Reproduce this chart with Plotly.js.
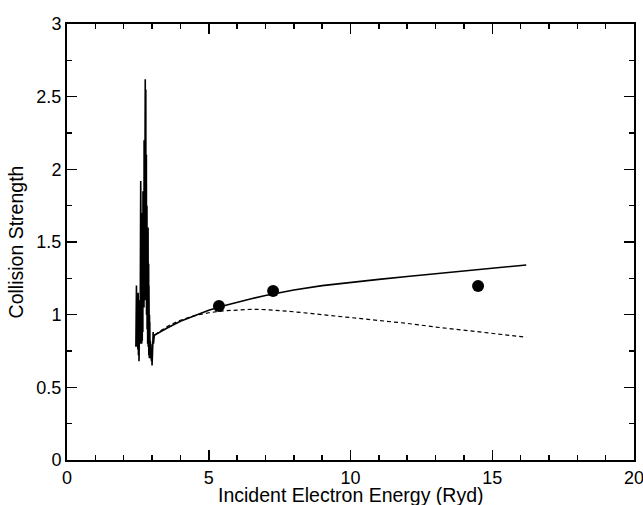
<!DOCTYPE html>
<html>
<head>
<meta charset="utf-8">
<script src="https://cdn.plot.ly/plotly-3.0.1.min.js"></script>
<style>html,body{margin:0;padding:0;background:#fff;}#chart{width:643px;height:505px;}</style>
</head>
<body>
<div id="chart"></div>
<script>
// Solid curve: resonance region + smooth background (energy in Ryd, collision strength)
const solidX = [2.43, 2.45, 2.46, 2.47, 2.48, 2.49, 2.50, 2.51, 2.52, 2.53, 2.54, 2.55, 2.56, 2.57, 2.58, 2.59, 2.600, 2.605, 2.610, 2.615, 2.620, 2.625, 2.630, 2.635, 2.640, 2.645, 2.650, 2.655, 2.660, 2.665, 2.670, 2.675, 2.680, 2.685, 2.690, 2.695, 2.700, 2.705, 2.710, 2.715, 2.720, 2.725, 2.730, 2.735, 2.740, 2.745, 2.750, 2.755, 2.760, 2.765, 2.770, 2.775, 2.780, 2.785, 2.790, 2.795, 2.800, 2.805, 2.810, 2.815, 2.820, 2.825, 2.830, 2.835, 2.840, 2.845, 2.850, 2.855, 2.860, 2.865, 2.870, 2.875, 2.880, 2.885, 2.890, 2.895, 2.900, 2.905, 2.910, 2.915, 2.920, 2.930, 2.940, 2.950, 2.960, 2.970, 2.980, 2.990, 3.000, 3.010, 3.020, 3.030, 3.040, 3.050, 3.060, 3.080, 3.100,
  3.5, 4.0, 4.5, 5.0, 5.5, 6.0, 6.5, 7.0, 7.5, 8.0, 9.0, 10.0, 11.0, 12.0, 13.0, 14.0, 15.0, 16.2];
const solidY = [0.78, 1.20, 0.80, 1.10, 0.78, 0.95, 0.76, 1.15, 0.72, 1.00, 0.68, 0.98, 0.75, 1.10, 0.80, 1.40, 1.92, 0.90, 1.60, 0.85, 1.70, 0.95, 1.50, 0.80, 1.55, 1.00, 1.65, 0.82, 1.45, 1.05, 1.70, 0.88, 1.85, 1.10, 1.60, 0.95, 1.72, 1.20, 1.95, 1.05, 2.20, 1.30, 1.70, 1.10, 2.50, 1.25, 1.90, 1.15, 2.62, 1.35, 2.20, 1.25, 2.55, 1.10, 1.80, 1.20, 2.10, 1.00, 1.65, 1.15, 1.75, 0.90, 1.50, 1.05, 1.55, 0.80, 1.45, 1.00, 1.60, 0.78, 1.30, 0.95, 1.35, 0.72, 1.20, 0.85, 1.10, 0.70, 1.00, 0.75, 0.95, 0.70, 0.82, 0.72, 0.80, 0.70, 0.68, 0.74, 0.65, 0.70, 0.75, 0.82, 0.88, 0.80, 0.83, 0.86, 0.86,
  0.905, 0.955, 0.995, 1.03, 1.06, 1.087, 1.11, 1.132, 1.152, 1.17, 1.20, 1.224, 1.243, 1.263, 1.283, 1.302, 1.32, 1.342];
// Dashed curve
const dashX = [3.10, 3.3, 3.6, 4.0, 4.5, 5.0, 5.5, 6.0, 6.5, 7.0, 7.5, 8.0, 9.0, 10.0, 11.0, 12.0, 13.0, 14.0, 15.0, 16.2];
const dashY = [0.86, 0.89, 0.925, 0.962, 0.993, 1.013, 1.026, 1.034, 1.037, 1.035, 1.03, 1.02, 1.00, 0.98, 0.962, 0.94, 0.915, 0.892, 0.87, 0.845];
// Measured points
const ptsX = [5.36, 7.27, 14.5];
const ptsY = [1.06, 1.163, 1.198];
const xTitle = 'Incident Electron Energy (Ryd)';
const yTitle = 'Collision Strength';

const tickFont = {family: 'Liberation Sans, Arial, sans-serif', size: 18, color: '#000'};
const titleFont = {family: 'Liberation Sans, Arial, sans-serif', size: 19.5, color: '#000'};
const data = [
  {x: solidX, y: solidY, type: 'scatter', mode: 'lines', line: {color: '#000', width: 1.6}, hoverinfo: 'skip'},
  {x: dashX, y: dashY, type: 'scatter', mode: 'lines', line: {color: '#000', width: 1.2, dash: '4px,3px'}, hoverinfo: 'skip'},
  {x: ptsX, y: ptsY, type: 'scatter', mode: 'markers', marker: {color: '#000', size: 12}, hoverinfo: 'skip'}
];
const axisCommon = {
  showgrid: false, zeroline: false, showline: true, linecolor: '#000', linewidth: 2,
  mirror: 'ticks', ticks: 'inside', ticklen: 10, tickwidth: 1.5, tickcolor: '#000',
  tickfont: tickFont, ticklabeloverflow: 'allow'
};
const layout = {
  width: 643, height: 505,
  margin: {l: 67, r: 9, t: 24, b: 45},
  paper_bgcolor: '#fff', plot_bgcolor: '#fff',
  showlegend: false,
  font: tickFont,
  xaxis: Object.assign({}, axisCommon, {
    range: [0, 20], dtick: 5, tick0: 0,
    minor: {dtick: 1, ticks: 'inside', ticklen: 5, tickwidth: 1.5, tickcolor: '#000'}
  }),
  yaxis: Object.assign({}, axisCommon, {
    range: [0, 3], dtick: 0.5, tick0: 0,
    minor: {dtick: 0.25, ticks: 'inside', ticklen: 5, tickwidth: 1.5, tickcolor: '#000'},
    title: {text: yTitle, font: titleFont, standoff: 8}
  }),
  annotations: [{
    text: xTitle, font: titleFont, showarrow: false,
    xref: 'paper', yref: 'paper', x: 0.5, y: -0.081, xanchor: 'center', yanchor: 'middle'
  }]
};
Plotly.newPlot('chart', data, layout, {displayModeBar: false, staticPlot: true});
</script>
</body>
</html>
